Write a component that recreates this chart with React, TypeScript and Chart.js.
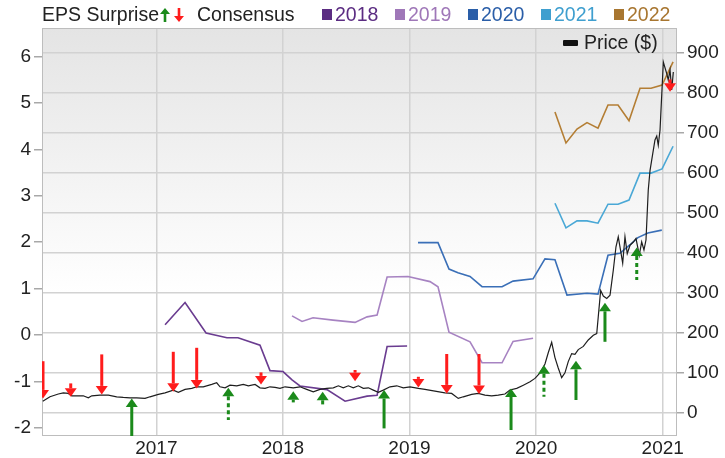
import React, { useEffect, useRef } from "react";
import { Chart, registerables } from "chart.js";

Chart.register(...registerables);

// ---------- axes ----------
const X_MIN = 2016.097;
const X_MAX = 2021.113;
const yearTicks = [2017, 2018, 2019, 2020, 2021];
const epsTicks = [-2, -1, 0, 1, 2, 3, 4, 5, 6];
const EPS_MIN = -2.18;
const EPS_MAX = 6.62;
const priceTicks = [0, 100, 200, 300, 400, 500, 600, 700, 800, 900];
const PRICE_MIN = -58;
const PRICE_MAX = 962;

// ---------- price ($) ----------
const priceDates = [
  2016.103, 2016.16, 2016.226, 2016.265, 2016.305, 2016.332, 2016.371, 2016.423, 2016.463, 2016.49,
  2016.555, 2016.621, 2016.687, 2016.739, 2016.792, 2016.845, 2016.911, 2016.95, 2017.016, 2017.069,
  2017.134, 2017.174, 2017.227, 2017.28, 2017.319, 2017.371, 2017.438, 2017.477, 2017.503, 2017.543,
  2017.582, 2017.635, 2017.687, 2017.727, 2017.78, 2017.819, 2017.859, 2017.898, 2017.938, 2017.977,
  2018.017, 2018.082, 2018.135, 2018.188, 2018.24, 2018.293, 2018.346, 2018.398, 2018.438, 2018.477,
  2018.517, 2018.556, 2018.596, 2018.635, 2018.675, 2018.714, 2018.754, 2018.793, 2018.846, 2018.899,
  2018.951, 2019.004, 2019.07, 2019.122, 2019.201, 2019.28, 2019.333, 2019.385, 2019.425, 2019.491,
  2019.543, 2019.596, 2019.649, 2019.701, 2019.754, 2019.793, 2019.847, 2019.899, 2019.952, 2019.991,
  2020.031, 2020.07, 2020.096, 2020.123, 2020.149, 2020.175, 2020.202, 2020.228, 2020.254, 2020.281,
  2020.307, 2020.333, 2020.373, 2020.412, 2020.452, 2020.479, 2020.491, 2020.51, 2020.531, 2020.558,
  2020.584, 2020.61, 2020.631, 2020.649, 2020.668, 2020.684, 2020.702, 2020.72, 2020.742, 2020.768,
  2020.789, 2020.815, 2020.834, 2020.852, 2020.868, 2020.886, 2020.9, 2020.939, 2020.953, 2020.965,
  2020.979, 2021.005, 2021.032, 2021.044, 2021.058, 2021.071, 2021.084,
];
const priceValues = [
  29, 40, 47, 50, 48.5, 42.5, 42.5, 42.5, 37.5, 42.5,
  44, 44, 40, 38.5, 37.5, 37.5, 36, 40, 46, 50,
  56.7, 51, 58.5, 61, 65, 65, 71, 75, 65, 62.5,
  69, 67.5, 71, 67.5, 71, 62.5, 61, 65, 63.5, 61,
  65, 62.5, 65, 58.5, 52.5, 58.5, 61, 62.5, 67.5, 62.5,
  67.5, 62.5, 67.5, 61, 62.5, 56.7, 51, 56.7, 65, 67.5,
  62.5, 65, 61, 58.5, 54, 50, 48.5, 36, 40, 46,
  48.5, 44, 42.5, 44, 47, 57, 61, 69, 77.5, 86,
  100, 122, 150, 176, 138, 112, 88, 100, 128, 148,
  146, 158, 166, 182, 194, 198, 240, 306, 292, 286,
  294, 357, 415, 440, 405, 374, 440, 398, 419, 427,
  436, 394, 427, 407, 432, 557, 606, 682, 692, 669,
  707, 877, 848, 832, 857, 807, 852,
];

// ---------- consensus EPS by fiscal year ----------
const c2018Dates = [2017.069, 2017.227, 2017.393, 2017.558, 2017.645, 2017.819, 2017.898, 2018.001, 2018.072, 2018.135, 2018.348, 2018.491, 2018.665, 2018.744, 2018.823, 2018.981];
const c2018Values = [0.22, 0.7, 0.04, -0.06, -0.06, -0.22, -0.77, -0.79, -0.97, -1.1, -1.18, -1.43, -1.32, -1.3, -0.25, -0.24];

const c2019Dates = [2018.072, 2018.151, 2018.238, 2018.396, 2018.57, 2018.665, 2018.744, 2018.823, 2018.988, 2019.162, 2019.225, 2019.312, 2019.478, 2019.573, 2019.731, 2019.818, 2019.976];
const c2019Values = [0.41, 0.29, 0.37, 0.32, 0.27, 0.39, 0.43, 1.25, 1.26, 1.15, 1.04, 0.06, -0.15, -0.6, -0.6, -0.14, -0.07];

const c2020Dates = [2019.067, 2019.225, 2019.312, 2019.383, 2019.478, 2019.573, 2019.731, 2019.818, 2019.976, 2020.07, 2020.149, 2020.244, 2020.402, 2020.489, 2020.568, 2020.662, 2020.74, 2020.804, 2020.883, 2020.993];
const c2020Values = [1.99, 1.99, 1.42, 1.34, 1.26, 1.04, 1.04, 1.16, 1.21, 1.64, 1.62, 0.86, 0.9, 0.88, 1.72, 1.76, 1.94, 2.1, 2.2, 2.26];

const c2021Dates = [2020.149, 2020.236, 2020.323, 2020.402, 2020.489, 2020.568, 2020.647, 2020.734, 2020.821, 2020.908, 2020.995, 2021.082];
const c2021Values = [2.84, 2.31, 2.46, 2.46, 2.41, 2.82, 2.82, 2.91, 3.49, 3.49, 3.58, 4.07];

const c2022Dates = [2020.149, 2020.236, 2020.323, 2020.402, 2020.489, 2020.568, 2020.647, 2020.734, 2020.821, 2020.908, 2020.995, 2021.082];
const c2022Values = [4.81, 4.14, 4.44, 4.58, 4.46, 4.96, 4.96, 4.62, 5.32, 5.32, 5.39, 5.89];

// ---------- EPS surprise arrows (drawn on price axis) ----------
const arrowDates = [2016.105, 2016.324, 2016.569, 2016.806, 2017.134, 2017.319, 2017.569, 2017.827, 2018.082, 2018.314, 2018.57, 2018.799, 2019.07, 2019.294, 2019.549, 2019.802, 2020.062, 2020.315, 2020.544, 2020.795, 2021.058];
const arrowTips = [36, 40, 46, 36, 52.5, 61, 62.5, 71, 54, 52.5, 79, 57, 63.5, 48.5, 47, 61, 119, 130, 275, 413.5, 802.5];
const arrowTails = [129, 73.5, 146, -70, 152.5, 162.5, -18, 101, 26, 21, 107, -39, 90, 147, 147, -43, 40, 32, 177.5, 332, 833.5];
const arrowDashed = [false, false, false, false, false, false, true, false, false, false, false, false, false, false, false, false, true, false, false, true, false];

const seriesNames = ["2018", "2019", "2020", "2021", "2022"];
const seriesLineColors = ["#6a3c90", "#a783c2", "#3a6fb7", "#4aa8d6", "#b47e34"];
const seriesLegendColors = ["#5b2c82", "#9f77b8", "#2a5ea8", "#3f9fcf", "#a87630"];

const UP = "#1b8a1b";
const DOWN = "#ff1c1c";
const FONT = '"Liberation Sans", Arial, Helvetica, sans-serif';

const pts = (xs: number[], ys: number[]) => xs.map((x, i) => ({ x, y: ys[i] }));

const bgPlugin = {
  id: "bg",
  beforeDraw(chart: any) {
    const { ctx, chartArea: a } = chart;
    const g = ctx.createLinearGradient(0, a.top, 0, a.bottom);
    g.addColorStop(0, "#e4e4e4");
    g.addColorStop(0.65, "#ffffff");
    g.addColorStop(1, "#ffffff");
    ctx.save();
    ctx.fillStyle = "#ffffff";
    ctx.fillRect(0, 0, chart.width, chart.height);
    ctx.fillStyle = g;
    ctx.fillRect(a.left, a.top, a.right - a.left, a.bottom - a.top);
    ctx.restore();
  },
  beforeDatasetsDraw(chart: any) {
    const { ctx, chartArea: a } = chart;
    ctx.save();
    ctx.strokeStyle = "#bdbdbd";
    ctx.lineWidth = 1;
    ctx.strokeRect(a.left + 0.5, a.top + 0.5, a.right - a.left - 1, a.bottom - a.top - 1);
    ctx.restore();
  },
};

const arrowPlugin = {
  id: "arrows",
  afterDatasetsDraw(chart: any) {
    const { ctx, chartArea: a, scales } = chart;
    const xs = scales.x;
    const yr = scales.yR;
    ctx.save();
    ctx.beginPath();
    ctx.rect(a.left, a.top, a.right - a.left, a.bottom - a.top);
    ctx.clip();
    arrowDates.forEach((d, i) => {
      const x = xs.getPixelForValue(d);
      const tip = yr.getPixelForValue(arrowTips[i]);
      const tail = yr.getPixelForValue(arrowTails[i]);
      const up = arrowTails[i] < arrowTips[i];
      const col = up ? UP : DOWN;
      const dir = up ? 1 : -1; // +1 => tail below tip
      const headLen = 8.5;
      const headW = 6;
      const base = tip + dir * headLen;
      ctx.strokeStyle = col;
      ctx.fillStyle = col;
      ctx.lineWidth = 3;
      ctx.setLineDash(arrowDashed[i] ? [4, 3] : []);
      ctx.beginPath();
      ctx.moveTo(x, base);
      ctx.lineTo(x, tail);
      ctx.stroke();
      ctx.setLineDash([]);
      ctx.beginPath();
      ctx.moveTo(x, tip);
      ctx.lineTo(x - headW, base);
      ctx.lineTo(x + headW, base);
      ctx.closePath();
      ctx.fill();
    });
    ctx.restore();
  },
};

export default function App() {
  const ref = useRef<HTMLCanvasElement>(null);

  useEffect(() => {
    document.body.style.margin = "0";
    const canvas = ref.current!;
    const seriesData = [
      pts(c2018Dates, c2018Values),
      pts(c2019Dates, c2019Values),
      pts(c2020Dates, c2020Values),
      pts(c2021Dates, c2021Values),
      pts(c2022Dates, c2022Values),
    ];
    const chart = new Chart(canvas, {
      type: "line",
      data: {
        datasets: [
          {
            label: "Price ($)",
            data: pts(priceDates, priceValues),
            yAxisID: "yR",
            borderColor: "#1e1e1e",
            borderWidth: 1.2,
            pointRadius: 0,
            tension: 0,
          } as any,
          ...seriesData.map((d, i) => ({
            label: seriesNames[i],
            data: d,
            yAxisID: "yL",
            borderColor: seriesLineColors[i],
            borderWidth: 1.6,
            pointRadius: 0,
            tension: 0,
          })),
        ],
      },
      plugins: [bgPlugin, arrowPlugin],
      options: {
        responsive: false,
        animation: false,
        devicePixelRatio: 1,
        parsing: false as any,
        normalized: true,
        layout: { padding: { top: 28, left: 0, right: 0, bottom: 0 } },
        plugins: { legend: { display: false }, tooltip: { enabled: false } },
        events: [],
        scales: {
          x: {
            type: "linear",
            position: "bottom",
            min: X_MIN,
            max: X_MAX,
            afterBuildTicks: (s: any) => {
              s.ticks = yearTicks.map((v) => ({ value: v }));
            },
            afterFit: (s: any) => {
              s.height = 22;
            },
            grid: { color: "#d2d2d2", lineWidth: 1.5, drawTicks: false },
            border: { display: false },
            ticks: {
              color: "#222",
              font: { family: FONT, size: 19 },
              padding: 1,
              maxRotation: 0,
              autoSkip: false,
              callback: (v: any) => String(v),
            },
          },
          yL: {
            type: "linear",
            position: "left",
            min: EPS_MIN,
            max: EPS_MAX,
            afterBuildTicks: (s: any) => {
              s.ticks = epsTicks.map((v) => ({ value: v }));
            },
            afterFit: (s: any) => {
              s.width = 42;
            },
            grid: { drawOnChartArea: false, drawTicks: true, tickLength: 8, tickColor: "#a8a8a8", lineWidth: 1.5 },
            border: { display: false },
            ticks: {
              color: "#222",
              font: { family: FONT, size: 19 },
              padding: 3,
              autoSkip: false,
              callback: (v: any) => String(v),
            },
          },
          yR: {
            type: "linear",
            position: "right",
            min: PRICE_MIN,
            max: PRICE_MAX,
            afterBuildTicks: (s: any) => {
              s.ticks = priceTicks.map((v) => ({ value: v }));
            },
            afterFit: (s: any) => {
              s.width = 48;
            },
            grid: { color: "#d2d2d2", lineWidth: 1.5, drawTicks: true, tickLength: 7, tickColor: "#a8a8a8" },
            border: { display: false },
            ticks: {
              color: "#222",
              font: { family: FONT, size: 19 },
              padding: 3,
              autoSkip: false,
              callback: (v: any) => String(v),
            },
          },
        },
      } as any,
    });
    return () => chart.destroy();
  }, []);

  const txt: React.CSSProperties = {
    position: "absolute",
    fontFamily: FONT,
    fontSize: 19.5,
    lineHeight: "22px",
    whiteSpace: "nowrap",
  };
  const legendX = [322, 395, 468, 541, 614];

  return (
    <div style={{ position: "relative", width: 725, height: 458, background: "#fff", overflow: "hidden" }}>
      <canvas ref={ref} width={725} height={458} style={{ display: "block", width: 725, height: 458 }} />
      <div style={{ ...txt, left: 42, top: 3, color: "#222" }}>EPS Surprise</div>
      <svg style={{ position: "absolute", left: 160, top: 7 }} width={26} height={16}>
        <polygon points="5,1 10,7 6.3,7 6.3,15 3.7,15 3.7,7 0,7" fill={UP} />
        <polygon points="19,15 14,9 17.7,9 17.7,1 20.3,1 20.3,9 24,9" fill={DOWN} />
      </svg>
      <div style={{ ...txt, left: 197, top: 3, color: "#222" }}>Consensus</div>
      {seriesNames.map((n, i) => (
        <React.Fragment key={n}>
          <div
            style={{
              position: "absolute",
              left: legendX[i],
              top: 9,
              width: 10,
              height: 11,
              background: seriesLegendColors[i],
            }}
          />
          <div style={{ ...txt, left: legendX[i] + 13, top: 3, color: seriesLegendColors[i] }}>{n}</div>
        </React.Fragment>
      ))}
      <div
        style={{ position: "absolute", left: 563, top: 40, width: 15, height: 6, background: "#111", borderRadius: 1 }}
      />
      <div style={{ ...txt, left: 584, top: 31, color: "#222" }}>Price ($)</div>
    </div>
  );
}
